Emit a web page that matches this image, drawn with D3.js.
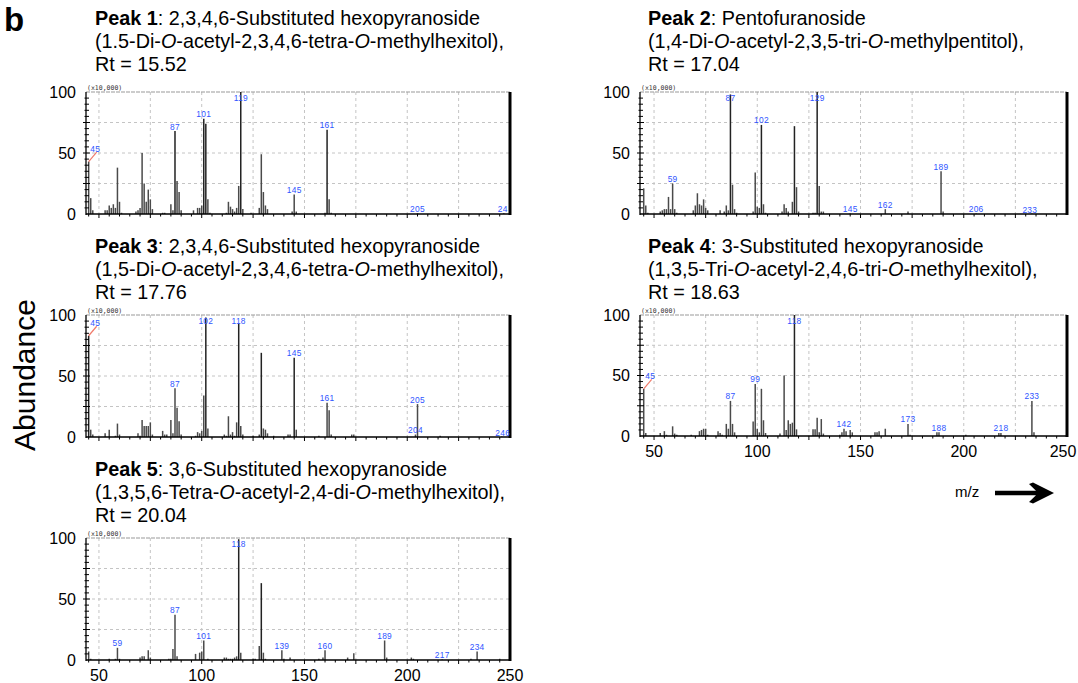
<!DOCTYPE html>
<html><head><meta charset="utf-8">
<script src="https://cdn.jsdelivr.net/npm/d3@7"></script>
<style>body{margin:0;background:#fff}svg{display:block}</style>
</head><body>
<script>
// ---------------- DATA ----------------
const xTickValues = [50, 100, 150, 200, 250];
const yTickValues = [0, 50, 100];

const peak1Mz  = [45,46,47,53,54,55,56,57,58,59,60,61,68,69,70,71,72,73,74,75,76,81,82,85,86,87,88,89,90,96,98,99,100,101,102,103,104,112,113,114,115,116,117,118,119,120,124,128,129,130,131,132,144,145,146,160,161,162,163,205,247];
const peak1Int = [43,13,3,3,3,7,5,8,5,38,10,1,2,3,5,50,25,10,20,12,4,1,1,8,3,68,27,18,3,3,5,5,7,78,74,12,1,1,10,6,4,2,5,23,100,4,1,5,49,18,7,4,2,16,2,1,69,12,1,0.6,0.6];
const peak1LabelMz   = [45,87,101,119,145,161,205,246.5];
const peak1LabelText = ["45","87","101","119","145","161","205","24"];

const peak2Mz  = [45,46,47,53,54,55,56,57,58,59,60,61,69,70,71,72,73,74,75,76,82,84,85,86,87,88,89,90,98,99,100,101,102,103,104,112,113,114,115,117,118,119,120,127,128,129,130,131,132,145,162,173,189,190,206,233];
const peak2Int = [21,7,1,2,3,4,4,14,4,25,4,1,3,7,17,8,7,12,5,3,3,2,7,3,98,24,4,1,2,34,6,5,73,8,1,2,8,5,2,10,72,22,2,1,1,100,23,2,2,0.5,4,2,35,2,0.5,0.5];
const peak2LabelMz   = [59,87,102,129,145,162,189,206,232];
const peak2LabelText = ["59","87","102","129","145","162","189","206","233"];

const peak3Mz  = [45,46,47,53,55,58,59,60,69,70,71,72,73,74,75,76,81,82,83,85,86,87,88,89,90,97,98,99,100,101,102,103,111,112,113,114,115,116,117,118,119,120,125,128,129,130,131,132,135,142,143,145,146,157,161,162,163,173,174,204,205,216,246];
const peak3Int = [83,6,2,3,6,1,11,2,3,1,14,9,9,9,12,2,5,2,2,14,3,40,24,13,2,1,4,3,5,34,98,7,2,1,17,2,4,1,12,93,9,2,1,2,69,7,6,3,1,2,2,65,6,1,28,22,2,2,2,2,27,1,0.5];
const peak3LabelMz   = [45,87,102,118,145,161,204,205,246.5];
const peak3LabelText = ["45","87","102","118","145","161","204","205","246"];

const peak4Mz  = [45,46,53,55,56,59,60,61,68,72,73,74,75,76,81,82,83,85,86,87,88,89,98,99,100,101,102,103,104,111,113,114,115,116,117,118,119,127,128,129,130,131,132,140,141,142,143,145,146,157,158,159,162,173,174,187,188,201,217,218,233,234];
const peak4Int = [39,2.5,2.5,4,1,8,2,1,1,4,5,6,6,1,4,2.5,1,10,6,29,10,3,12,43,6,3,39,13,2.5,2,50,5,13,10,11,100,5.5,5.5,5.5,15,3,14,2,1,3,6,4,5,3,3,3,4,6,10,1,3,3,1,2.5,2.5,29,3];
const peak4LabelMz   = [45,87,99,118,142,173,188,218,233];
const peak4LabelText = ["45","87","99","118","142","173","188","218","233"];

const peak5Mz  = [45,46,55,58,59,60,70,71,72,74,75,84,85,86,87,88,97,99,100,101,103,111,112,113,114,115,116,117,118,119,125,126,128,129,130,131,139,140,143,157,159,160,171,174,189,190,202,203,217,231,234,245];
const peak5Int = [7,1,1,1,10,1,2,3,3,8,2,1,1,9,37,3,5,6,7,16,1,2,2,1,1,1,2,3,99,6,1,1,11.5,63,6,1,8,1,2,1,2,8,2,5.5,16,2,2,1,0.5,1,7,1];
const peak5LabelMz   = [59,87,101,118,139,160,189,217,234];
const peak5LabelText = ["59","87","101","118","139","160","189","217","234"];

const titlesBold = ["Peak 1","Peak 2","Peak 3","Peak 4","Peak 5"];
const titlesLine1 = [": 2,3,4,6-Substituted hexopyranoside", ": Pentofuranoside", ": 2,3,4,6-Substituted hexopyranoside", ": 3-Substituted hexopyranoside", ": 3,6-Substituted hexopyranoside"];
const titlesLine2 = ["(1.5-Di-*O*-acetyl-2,3,4,6-tetra-*O*-methylhexitol),", "(1,4-Di-*O*-acetyl-2,3,5-tri-*O*-methylpentitol),", "(1,5-Di-*O*-acetyl-2,3,4,6-tetra-*O*-methylhexitol),", "(1,3,5-Tri-*O*-acetyl-2,4,6-tri-*O*-methylhexitol),", "(1,3,5,6-Tetra-*O*-acetyl-2,4-di-*O*-methylhexitol),"];
const titlesLine3 = ["Rt = 15.52", "Rt = 17.04", "Rt = 17.76", "Rt = 18.63", "Rt = 20.04"];

// ---------------- LAYOUT ----------------
const W = 1078, H = 683;
const panels = [
  {mz: peak1Mz, it: peak1Int, lm: peak1LabelMz, lt: peak1LabelText, left: 86,  right: 510,  top: 92,  bottom: 214, tx: 95,  ty: 25,  xt: false, d0: 43.7},
  {mz: peak2Mz, it: peak2Int, lm: peak2LabelMz, lt: peak2LabelText, left: 640, right: 1067, top: 92,  bottom: 214, tx: 648, ty: 25,  xt: false, d0: 43.2},
  {mz: peak3Mz, it: peak3Int, lm: peak3LabelMz, lt: peak3LabelText, left: 86,  right: 510,  top: 315, bottom: 437, tx: 95,  ty: 253, xt: false, d0: 43.7},
  {mz: peak4Mz, it: peak4Int, lm: peak4LabelMz, lt: peak4LabelText, left: 640, right: 1067, top: 315, bottom: 436, tx: 648, ty: 253, xt: true,  d0: 43.2},
  {mz: peak5Mz, it: peak5Int, lm: peak5LabelMz, lt: peak5LabelText, left: 86,  right: 510,  top: 538, bottom: 660, tx: 95,  ty: 476, xt: true,  d0: 43.7}
];

const svg = d3.select("body").append("svg").attr("width", W).attr("height", H)
  .style("font-family", "Arial, 'Liberation Sans', sans-serif");

// panel letter
svg.append("text").attr("x", 4).attr("y", 31).attr("font-size", 33).attr("font-weight", "bold").text("b");

// y title
svg.append("text").attr("transform", "translate(35,375) rotate(-90)").attr("text-anchor", "middle")
  .attr("font-size", 30).text("Abundance");

function addRich(textSel, s) {
  s.split("*").forEach((part, i) => {
    if (!part) return;
    const t = textSel.append("tspan").text(part);
    if (i % 2 === 1) t.attr("font-style", "italic");
  });
}

panels.forEach((p, i) => {
  const x = d3.scaleLinear().domain([p.d0, 250]).range([p.left, p.right]);
  const y = d3.scaleLinear().domain([0, 100]).range([p.bottom, p.top]);
  const g = svg.append("g");

  // title
  const tf = 19.8, lh = 23.2;
  const t1 = g.append("text").attr("x", p.tx).attr("y", p.ty).attr("font-size", tf);
  t1.append("tspan").attr("font-weight", "bold").text(titlesBold[i]);
  t1.append("tspan").text(titlesLine1[i]);
  const t2 = g.append("text").attr("x", p.tx).attr("y", p.ty + lh).attr("font-size", tf);
  addRich(t2, titlesLine2[i]);
  g.append("text").attr("x", p.tx).attr("y", p.ty + 2 * lh).attr("font-size", tf).text(titlesLine3[i]);

  // grid
  const gx = d3.range(50, 250, 25);
  g.selectAll(".gx").data(gx).join("line")
    .attr("x1", d => x(d)).attr("x2", d => x(d)).attr("y1", p.top).attr("y2", p.bottom)
    .attr("stroke", "#c4c4c4").attr("stroke-width", 1).attr("stroke-dasharray", "3,3");
  g.selectAll(".gy").data([25, 50, 75, 100]).join("line")
    .attr("x1", p.left).attr("x2", p.right).attr("y1", d => y(d)).attr("y2", d => y(d))
    .attr("stroke", d => d === 100 ? "#999" : "#c4c4c4").attr("stroke-width", 1).attr("stroke-dasharray", d => d === 100 ? "4,1" : "3,3");

  // bars
  g.selectAll(".bar").data(p.mz.map((m, k) => [m, p.it[k]])).join("line")
    .attr("x1", d => x(d[0])).attr("x2", d => x(d[0]))
    .attr("y1", y(0)).attr("y2", d => y(d[1]))
    .attr("stroke", d => d[1] > 60 ? "#222" : "#4a4a4a").attr("stroke-width", 1.5);

  // axes lines
  g.append("line").attr("x1", p.left).attr("x2", p.left).attr("y1", p.top).attr("y2", p.bottom + 1)
    .attr("stroke", "#000").attr("stroke-width", 1.3);
  g.append("line").attr("x1", p.left).attr("x2", p.right).attr("y1", p.bottom).attr("y2", p.bottom)
    .attr("stroke", "#000").attr("stroke-width", 1.3);
  g.append("line").attr("x1", p.right).attr("x2", p.right).attr("y1", p.top).attr("y2", p.bottom + 1)
    .attr("stroke", "#000").attr("stroke-width", 3);

  // y minor ticks
  const yt = d3.range(5, 100, 5);
  g.selectAll(".yt").data(yt).join("line")
    .attr("x1", d => p.left - (d % 25 === 0 ? 3 : 1.5)).attr("x2", d => p.left + (d % 25 === 0 ? 4 : 3))
    .attr("y1", d => y(d)).attr("y2", d => y(d)).attr("stroke", "#000").attr("stroke-width", 1);
  // x minor ticks
  const xt = d3.range(45, 250, 5);
  g.selectAll(".xtk").data(xt).join("line")
    .attr("x1", d => x(d)).attr("x2", d => x(d))
    .attr("y1", p.bottom).attr("y2", d => p.bottom + (d % 25 === 0 ? 4 : 2.5))
    .attr("stroke", "#000").attr("stroke-width", 1);

  // scale note
  g.append("text").attr("x", p.left + 1).attr("y", p.top - 2).attr("font-size", 6.5)
    .attr("font-family", "'DejaVu Sans Mono', monospace").attr("fill", "#333").text("(x10,000)");

  // y tick labels
  g.selectAll(".yl").data(yTickValues).join("text")
    .attr("x", p.left - 10).attr("y", d => y(d)).attr("dy", "0.36em")
    .attr("text-anchor", "end").attr("font-size", 16).text(d => d);

  // x tick labels
  if (p.xt) {
    g.selectAll(".xl").data(xTickValues).join("text")
      .attr("x", d => Math.min(x(d), W - 15)).attr("y", p.bottom + 21).attr("text-anchor", "middle")
      .attr("font-size", 16).text(d => d);
  }

  // peak labels
  p.lm.forEach((m, k) => {
    const idx = p.mz.indexOf(Math.round(m));
    const v = idx >= 0 ? p.it[idx] : 0;
    const bx = x(Math.round(m)), by = y(v);
    let lx = x(m), ly = Math.max(by - 1.5, p.top + 8.5);
    if (m === 45) {
      g.append("line").attr("x1", bx).attr("y1", by).attr("x2", bx + 8).attr("y2", by - 9.5)
        .attr("stroke", "#f07a6a").attr("stroke-width", 1.2);
      lx = bx + 6.5; ly = by - 10;
    }
    g.append("text").attr("x", lx).attr("y", ly).attr("text-anchor", "middle")
      .attr("font-size", 8.4).attr("fill", "#2f55ff").attr("letter-spacing", 0.3).text(p.lt[k]);
  });
});

// m/z arrow
svg.append("text").attr("x", 955).attr("y", 497).attr("font-size", 15).text("m/z");
svg.append("path")
  .attr("d", "M995,490.7 L1036,490.7 L1029,484 L1033,482.5 L1054,493 L1033,503.5 L1029,502 L1036,495.3 L995,495.3 Z")
  .attr("fill", "#000");
</script>
</body></html>
